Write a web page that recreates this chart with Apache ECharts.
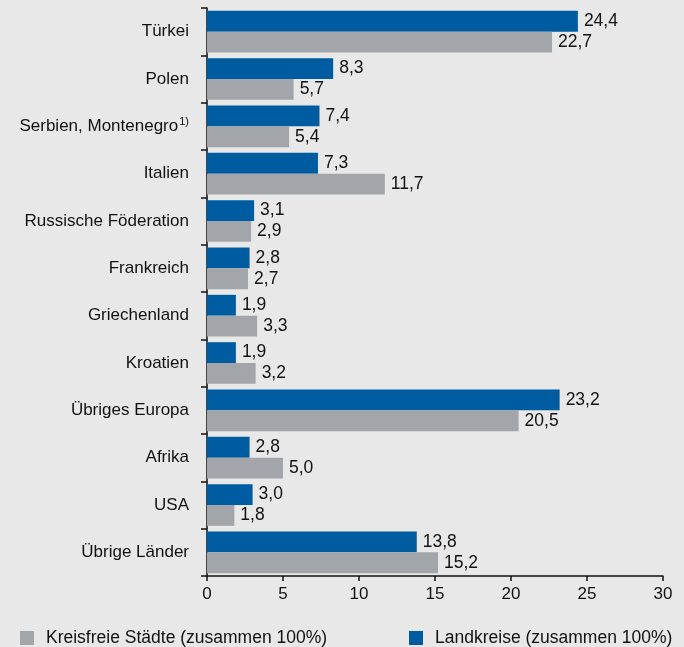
<!DOCTYPE html>
<html>
<head>
<meta charset="utf-8">
<script src="https://cdn.jsdelivr.net/npm/echarts@6/dist/echarts.min.js"></script>
<style>
  html, body { margin: 0; padding: 0; background: #e8e8e8; }
  #chart { width: 684px; height: 647px; }
</style>
</head>
<body>
<div id="chart"></div>
<script>
// Kategorien (von oben nach unten)
var categories = ["Türkei", "Polen", "Serbien, Montenegro", "Italien", "Russische Föderation",
  "Frankreich", "Griechenland", "Kroatien", "Übriges Europa", "Afrika", "USA", "Übrige Länder"];
// Landkreise (zusammen 100%)
var landkreise = [24.4, 8.3, 7.4, 7.3, 3.1, 2.8, 1.9, 1.9, 23.2, 2.8, 3.0, 13.8];
// Kreisfreie Städte (zusammen 100%)
var kreisfreie = [22.7, 5.7, 5.4, 11.7, 2.9, 2.7, 3.3, 3.2, 20.5, 5.0, 1.8, 15.2];
var xTicks = [0, 5, 10, 15, 20, 25, 30];

var FONT = "'Liberation Sans', Arial, sans-serif";
var BLUE = "#005ca1";
var GRAY = "#a2a5a9";

function fmt(v) {
  return v.toFixed(1).replace(".", ",");
}

var barLabel = {
  show: true,
  position: "right",
  distance: 6,
  color: "#111",
  fontSize: 17.5,
  fontFamily: FONT,
  formatter: function (p) { return fmt(p.value); }
};

var legendText = { fontSize: 17.5, color: "#111", fontFamily: FONT, padding: [0, 0, 0, 7] };

var option = {
  backgroundColor: "#e8e8e8",
  animation: false,
  grid: { left: 207, right: 21, top: 8, bottom: 71 },
  legend: [
    {
      data: ["Kreisfreie Städte (zusammen 100%)"],
      left: 20, top: 629, padding: 0,
      icon: "rect", itemWidth: 14, itemHeight: 14,
      textStyle: legendText
    },
    {
      data: ["Landkreise (zusammen 100%)"],
      left: 409, top: 629, padding: 0,
      icon: "rect", itemWidth: 14, itemHeight: 14,
      textStyle: legendText
    }
  ],
  xAxis: {
    type: "value",
    min: xTicks[0],
    max: xTicks[xTicks.length - 1],
    interval: 5,
    axisLine: { show: true, lineStyle: { color: "#111", width: 1.5 } },
    axisTick: { show: true, length: 5, lineStyle: { color: "#111", width: 1.5 } },
    axisLabel: { fontSize: 17, color: "#111", fontFamily: FONT, margin: 10 },
    splitLine: { show: false }
  },
  yAxis: {
    type: "category",
    inverse: true,
    data: categories,
    axisLine: { show: true, lineStyle: { color: "#111", width: 1.5 } },
    axisTick: { show: true, length: 6, lineStyle: { color: "#111", width: 1.5 } },
    axisLabel: {
      fontSize: 17, color: "#111", fontFamily: FONT, margin: 18,
      formatter: function (v) {
        return v === "Serbien, Montenegro" ? v + "{sup|1)}" : v;
      },
      rich: {
        sup: { fontSize: 11, color: "#111", fontFamily: FONT, verticalAlign: "top", padding: [0, 0, 8, 1] }
      }
    }
  },
  series: [
    {
      name: "Landkreise (zusammen 100%)",
      type: "bar",
      data: landkreise,
      itemStyle: { color: BLUE },
      barGap: "0%",
      barCategoryGap: "12%",
      label: barLabel
    },
    {
      name: "Kreisfreie Städte (zusammen 100%)",
      type: "bar",
      data: kreisfreie,
      itemStyle: { color: GRAY },
      barGap: "0%",
      barCategoryGap: "12%",
      label: barLabel
    }
  ]
};

echarts.init(document.getElementById("chart")).setOption(option);
</script>
</body>
</html>
